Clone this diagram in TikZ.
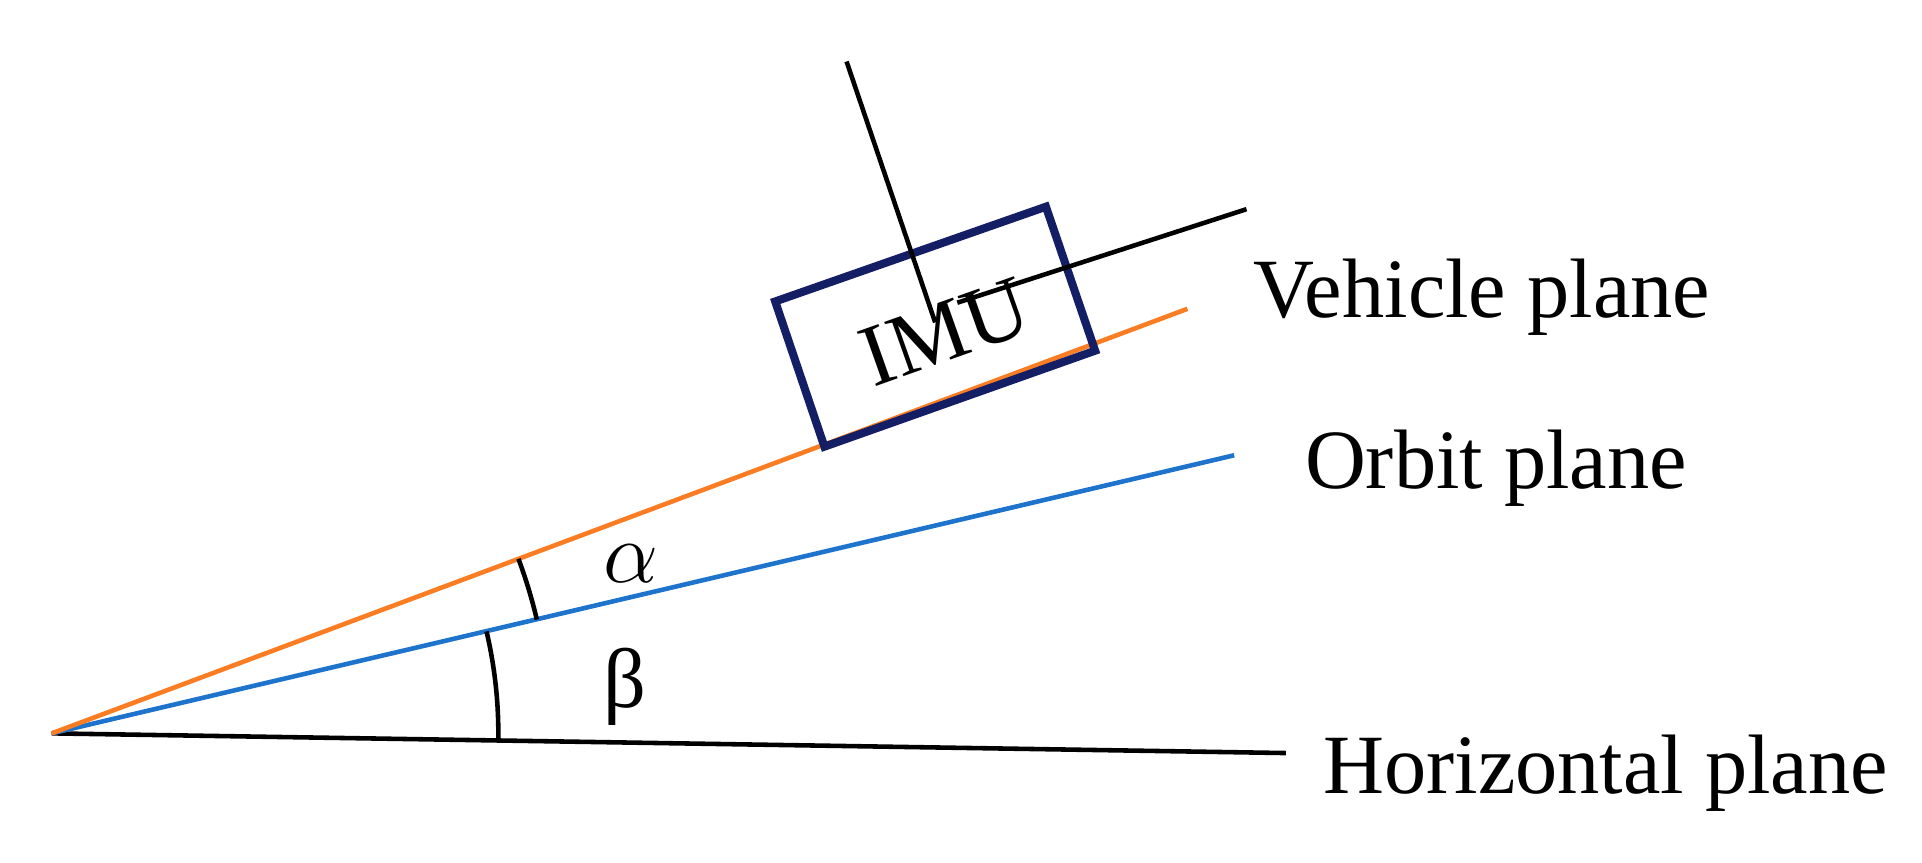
\documentclass[tikz,border=0pt]{standalone}
\usepackage{fontspec}
\setmainfont{Liberation Serif}
\definecolor{orbitblue}{RGB}{30,115,205}
\definecolor{vehorange}{RGB}{250,125,35}
\definecolor{imublue}{RGB}{20,30,100}
\begin{document}
\begin{tikzpicture}[x=0.12305mm,y=-0.12305mm,
    lbl/.style={anchor=base west, inner sep=0pt, font=\fontsize{24}{28}\selectfont}]
    \useasboundingbox (0,0) rectangle (1562,700.6);

    \coordinate (O) at (42,596);
    \coordinate (H) at (1045,612);
    \coordinate (B) at (1003,370);
    \coordinate (V) at (965,251);

    % planes
    \draw[line width=1.3pt] (O) -- (H);
    \draw[line width=1.3pt, orbitblue] (O) -- (B);
    \draw[line width=1.3pt, vehorange] (O) -- (V);

    % IMU body and axes
    \draw[line width=2.3pt, imublue] (630,245) -- (850,168) -- (890,285) -- (670,363) -- cycle;
    \coordinate (C) at (760,262);
    \draw[line width=1.3pt] (688,50) -- (C);
    \draw[line width=1.3pt] (1013,170) -- (778,246);
    \node[rotate=19.5, font=\fontsize{25}{28}\selectfont, inner sep=0pt] (imu) at (768,270) {IMU};

    % angles
    \draw[line width=1.3pt] (O) ++(-13.2:405) arc[start angle=-13.2, end angle=-20.5, radius=405];
    \draw[line width=1.3pt] (O) ++(0.9:363) arc[start angle=0.9, end angle=-13.2, radius=363];
    \node[lbl, font=\fontsize{28}{30}\selectfont] (alpha) at (490,473) {$\alpha$};
    \node[lbl] (beta) at (490,575) {β};

    \node[lbl] (veh) at (1018,258) {Vehicle plane};
    \node[lbl] (orb) at (1060,397) {Orbit plane};
    \node[lbl] (hor) at (1075,645) {Horizontal plane};
\end{tikzpicture}
\end{document}
